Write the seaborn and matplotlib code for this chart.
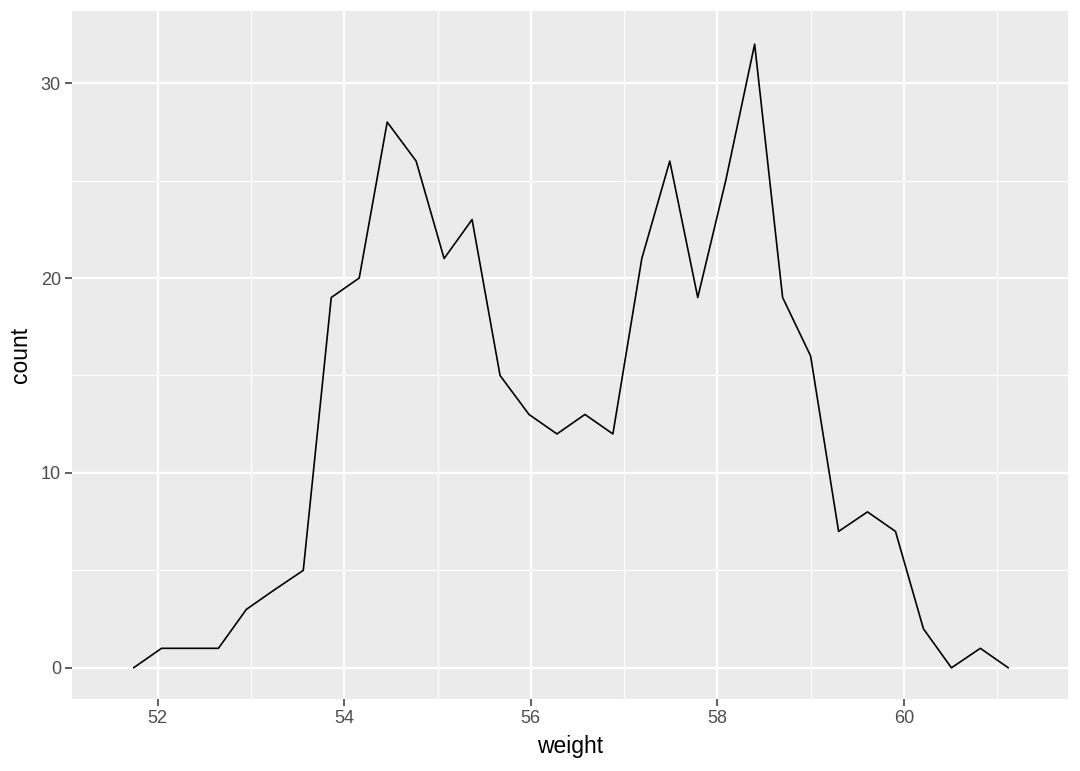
import matplotlib
matplotlib.use("Agg")
import matplotlib.pyplot as plt
import seaborn as sns
import pandas as pd
from matplotlib.ticker import MultipleLocator

# bin midpoints (weight) and counts
weight = [51.74, 52.04, 52.35, 52.65, 52.95, 53.25, 53.56, 53.86, 54.16, 54.46,
          54.77, 55.07, 55.37, 55.67, 55.98, 56.28, 56.58, 56.88, 57.19, 57.49,
          57.79, 58.09, 58.40, 58.70, 59.00, 59.30, 59.61, 59.91, 60.21, 60.51,
          60.82, 61.12]
count = [0, 1, 1, 1, 3, 4, 5, 19, 20, 28,
         26, 21, 23, 15, 13, 12, 13, 12, 21, 26,
         19, 25, 32, 19, 16, 7, 8, 7, 2, 0,
         1, 0]
x_ticks = [52, 54, 56, 58, 60]
y_ticks = [0, 10, 20, 30]

df = pd.DataFrame({"weight": weight, "count": count})

sns.set_theme(style="darkgrid")
plt.rcParams["font.family"] = ["Liberation Sans", "DejaVu Sans"]

fig = plt.figure(figsize=(10.8, 7.71), dpi=100)
ax = fig.add_axes([72/1080, 1-699/771, (1068-72)/1080, (699-11)/771])
ax.set_facecolor("#EBEBEB")

sns.lineplot(data=df, x="weight", y="count", ax=ax, color="black", linewidth=1.2)

ax.set_xlim(51.08, 61.76)
ax.set_ylim(-1.6, 33.7)
ax.set_xticks(x_ticks)
ax.set_yticks(y_ticks)
ax.xaxis.set_minor_locator(MultipleLocator(1))
ax.yaxis.set_minor_locator(MultipleLocator(5))
ax.grid(which="major", color="white", linewidth=1.6)
ax.grid(which="minor", color="white", linewidth=0.8)
ax.set_axisbelow(True)
for s in ax.spines.values():
    s.set_visible(False)

ax.tick_params(axis="both", which="major", length=5, width=1.1, color="#333333",
               labelcolor="#4D4D4D", labelsize=13, pad=3, direction="out",
               bottom=True, left=True)
ax.tick_params(axis="both", which="minor", length=0)
ax.set_xlabel("weight", fontsize=16.5, color="black", labelpad=6)
ax.set_ylabel("count", fontsize=16.5, color="black", labelpad=6)

fig.savefig("out.png", dpi=100)
